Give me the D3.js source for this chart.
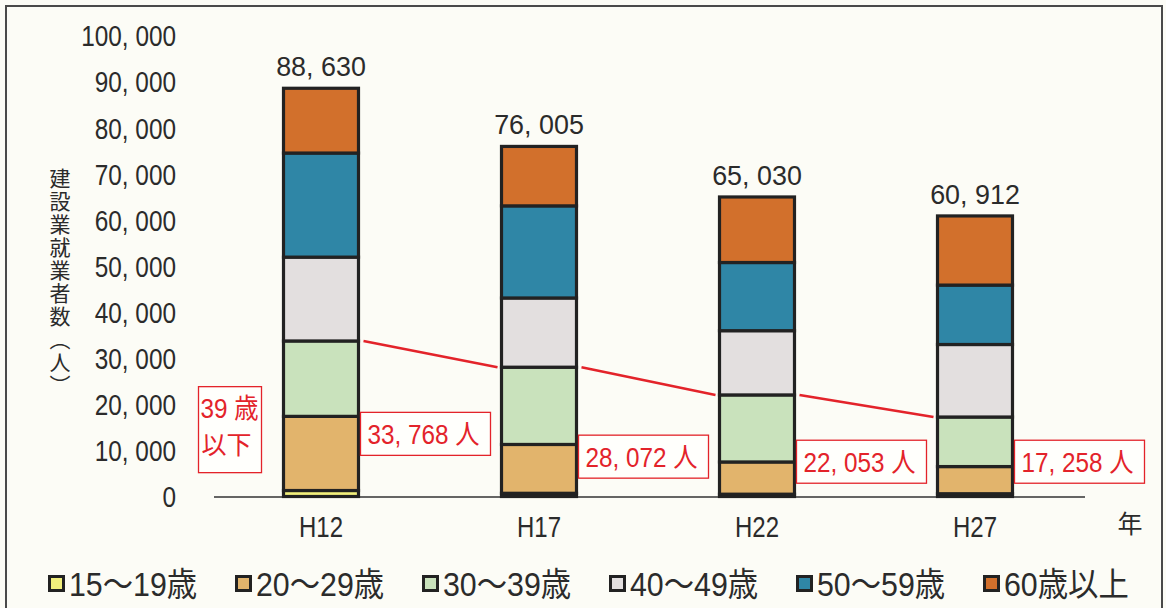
<!DOCTYPE html>
<html>
<head>
<meta charset="utf-8">
<script src="https://cdn.jsdelivr.net/npm/d3@7"></script>
<style>
  html, body { margin: 0; padding: 0; background: #fcfcf6; }
  svg { display: block; }
</style>
</head>
<body>
<svg id="chart" width="1166" height="608"></svg>
<script>
// ---- data ----
const categories = ["H12", "H17", "H22", "H27"];
const ageGroups = ["15～19歳", "20～29歳", "30～39歳", "40～49歳", "50～59歳", "60歳以上"];
const age15_19 = [1300, 700, 500, 600];
const age20_29 = [16100, 10600, 7000, 5900];
const age30_39 = [16368, 16772, 14553, 10758];
const age40_49 = [18200, 15028, 13947, 15742];
const age50_59 = [22600, 20000, 14800, 12900];
const age60plus = [14062, 12905, 14230, 15012];
const totals = [88630, 76005, 65030, 60912];
const under39 = [33768, 28072, 22053, 17258];
const yTicks = [0, 10000, 20000, 30000, 40000, 50000, 60000, 70000, 80000, 90000, 100000];
const yTitle = "建設業就業者数（人）";
const xUnit = "年";
const under39Title = ["39 歳", "以下"];
const personUnit = "人";

// ---- styles / layout ----
const colors = ["#f1ef7c", "#e2b46c", "#c9e2bc", "#e3dfdf", "#2f86a6", "#d2702c"];
const numFont = "'Liberation Sans', Arial, 'Noto Sans CJK JP', sans-serif";
const jpFont = "'Noto Sans CJK JP', sans-serif";
const textColor = "#2b2b2b";
const red = "#e3232a";
// label box anchors (data units, vertical centre of the red boxes)
const boxAnchor = [13600, 8650, 7550, 7550];

const svg = d3.select("#chart");

// condensed text helper
function ctext(sel, opts) {
  return sel
    .attr("transform", opts.t)
    .attr("x", 0).attr("y", 0)
    .attr("text-anchor", opts.anchor || "start")
    .attr("font-family", opts.family || numFont)
    .attr("font-size", opts.size)
    .attr("fill", opts.fill || textColor);
}

// frame
svg.append("rect").attr("x", 6).attr("y", 6).attr("width", 1156).attr("height", 640)
  .attr("fill", "#fcfcf6").attr("stroke", "#4a4a4a").attr("stroke-width", 2);

const x = d3.scaleBand().domain(categories).range([212, 1084])
  .paddingInner(0.656).paddingOuter(0.328);
const y = d3.scaleLinear().domain([0, 100000]).range([496.5, 35.9]);
const bw = x.bandwidth();

const fmt = v => d3.format(",")(v).replace(/,/g, ", ");

// y tick labels
ctext(svg.append("g").selectAll("text").data(yTicks).join("text"), {
  t: d => `translate(176,${y(d) + 10.5}) scale(0.84,1)`, anchor: "end", size: 29
}).text(d => fmt(d));

// y title (vertical)
svg.append("text")
  .attr("x", 60).attr("y", 168)
  .attr("font-family", jpFont).attr("font-size", 21).attr("fill", textColor)
  .style("writing-mode", "vertical-rl")
  .attr("letter-spacing", 2)
  .text(yTitle);

// x axis line
svg.append("line").attr("x1", 214).attr("x2", 1085)
  .attr("y1", y(0) + 0.5).attr("y2", y(0) + 0.5)
  .attr("stroke", "#333").attr("stroke-width", 1.5);

// stacked data
const rows = categories.map((c, i) => ({
  cat: c,
  a0: age15_19[i], a1: age20_29[i], a2: age30_39[i],
  a3: age40_49[i], a4: age50_59[i], a5: age60plus[i]
}));
const keys = ["a0", "a1", "a2", "a3", "a4", "a5"];
const stacked = d3.stack().keys(keys)(rows);

const gBars = svg.append("g");
stacked.forEach((layer, li) => {
  gBars.append("g").selectAll("rect").data(layer).join("rect")
    .attr("x", d => x(d.data.cat))
    .attr("y", d => y(d[1]))
    .attr("width", bw)
    .attr("height", d => y(d[0]) - y(d[1]))
    .attr("fill", colors[li])
    .attr("stroke", "#222")
    .attr("stroke-width", 3.2);
});

// totals
ctext(svg.append("g").selectAll("text").data(categories).join("text"), {
  t: (c, i) => `translate(${x(c) + bw / 2},${y(totals[i]) - 12}) scale(0.96,1)`,
  anchor: "middle", size: 28
}).text((c, i) => fmt(totals[i]));

// x labels
ctext(svg.append("g").selectAll("text").data(categories).join("text"), {
  t: c => `translate(${x(c) + bw / 2},537) scale(0.8,1)`,
  anchor: "middle", size: 30
}).text(c => c);

svg.append("text").attr("x", 1130).attr("y", 533).attr("text-anchor", "middle")
  .attr("font-family", jpFont).attr("font-size", 25).attr("fill", textColor)
  .text(xUnit);

// red connector lines
for (let i = 0; i < categories.length - 1; i++) {
  svg.append("line")
    .attr("x1", x(categories[i]) + bw + 5)
    .attr("y1", y(under39[i]))
    .attr("x2", x(categories[i + 1]) - 4)
    .attr("y2", y(under39[i + 1]))
    .attr("stroke", red).attr("stroke-width", 2.6);
}

// red label boxes
const boxW = 130, boxH = 43;
categories.forEach((c, i) => {
  const bx = x(c) + bw + 2;
  const cy = y(boxAnchor[i]);
  svg.append("rect").attr("x", bx).attr("y", cy - boxH / 2)
    .attr("width", boxW).attr("height", boxH)
    .attr("fill", "#fffffc").attr("stroke", red).attr("stroke-width", 1.3);
  ctext(svg.append("text"), {
    t: `translate(${bx + 7},${cy + 10}) scale(0.9,1)`, size: 27, fill: red
  }).text(fmt(under39[i]) + " " + personUnit);
});

// "39歳以下" box
{
  const bx = x(categories[0]) - 85, by = y(23850);
  svg.append("rect").attr("x", bx).attr("y", by).attr("width", 63).attr("height", 86)
    .attr("fill", "#fffffc").attr("stroke", red).attr("stroke-width", 1.3);
  ctext(svg.append("text"), {
    t: `translate(${bx + 2},${by + 31}) scale(0.9,1)`, size: 27, fill: red
  }).text(under39Title[0]);
  svg.append("text").attr("x", bx + 3).attr("y", by + 67)
    .attr("font-family", jpFont).attr("font-size", 25).attr("fill", red)
    .text(under39Title[1]);
}

// legend
const legend = svg.append("g").selectAll("g").data(ageGroups).join("g")
  .attr("transform", (d, i) => `translate(${48 + i * 187},0)`);
legend.append("rect").attr("x", 1.5).attr("y", 576.5).attr("width", 14).attr("height", 14)
  .attr("fill", (d, i) => colors[i]).attr("stroke", "#222").attr("stroke-width", 3);
ctext(legend.append("text"), {
  t: "translate(21,596) scale(0.92,1)", size: 33
}).text(d => d);
</script>
</body>
</html>
